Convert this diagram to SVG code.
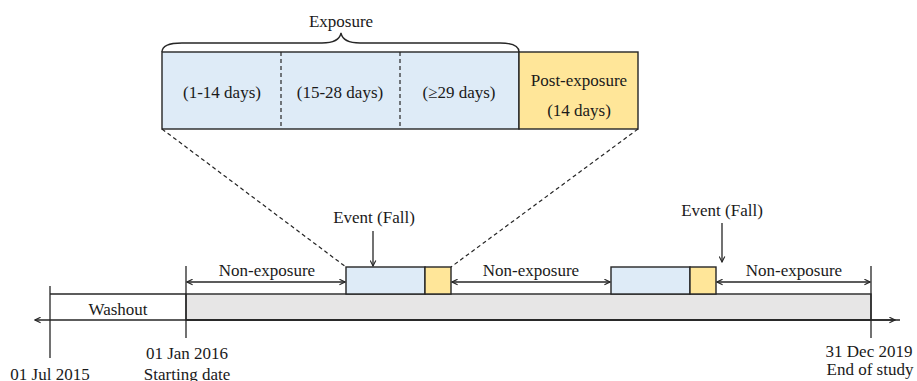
<svg xmlns="http://www.w3.org/2000/svg" width="917" height="381" viewBox="0 0 917 381" font-family="Liberation Serif, Times New Roman, serif">
<defs>
<style>
text{font-size:17px;fill:#1a1a1a;text-anchor:middle}
.box{stroke:#262626;stroke-width:1.4}
.blue{fill:#DEEBF7}
.yel{fill:#FFE699}
.ln{stroke:#262626;stroke-width:1.3;fill:none}
.dash{stroke:#262626;stroke-width:1.2;fill:none;stroke-dasharray:4 3}
.arr{stroke:#262626;stroke-width:1.3;fill:none;marker-end:url(#ah)}
.darr{stroke:#262626;stroke-width:1.3;fill:none;marker-start:url(#ah);marker-end:url(#ah)}
</style>
<marker id="ah" viewBox="0 0 10 10" refX="9" refY="5" markerWidth="7" markerHeight="7" markerUnits="userSpaceOnUse" orient="auto-start-reverse">
<path d="M1,1 L9,5 L1,9" fill="none" stroke="#262626" stroke-width="1.6"/>
</marker>
</defs>

<g id="exposure-detail">
<rect class="box blue" x="162" y="52" width="357" height="77"/>
<line class="dash" x1="281" y1="52" x2="281" y2="129"/>
<line class="dash" x1="400" y1="52" x2="400" y2="129"/>
<text x="222" y="98">(1-14 days)</text>
<text x="340" y="98">(15-28 days)</text>
<text x="459" y="98">(≥29 days)</text>
<path class="ln" d="M162,52 Q162,43 182,43 L322,43 Q339,43 341,33 Q343,43 360,43 L500,43 Q519,43 519,52"/>
<text x="341" y="27">Exposure</text>
</g>
<g id="post-exposure">
<rect class="box yel" x="519" y="52" width="119" height="77"/>
<text x="579" y="86">Post-exposure</text>
<text x="579" y="116">(14 days)</text>
</g>

<g id="timeline">
<rect x="186" y="294" width="685" height="26" fill="#E7E6E6" class="box"/>
<line class="ln" x1="50" y1="294" x2="186" y2="294"/>
<text x="118" y="315">Washout</text>
<line class="ln" x1="50" y1="286" x2="50" y2="358"/>
<line class="ln" x1="186" y1="266" x2="186" y2="338"/>
<line class="ln" x1="871" y1="266" x2="871" y2="338"/>
<text x="50" y="380">01 Jul 2015</text>
<text x="187" y="359">01 Jan 2016</text>
<text x="187" y="380">Starting date</text>
<text x="869" y="357">31 Dec 2019</text>
<text x="870" y="375">End of study</text>
</g>

<g id="event1">
<rect class="box blue" x="346" y="267" width="79" height="27"/>
<rect class="box yel" x="425" y="267" width="26" height="27"/>
<text x="374" y="223">Event (Fall)</text>
</g>
<g id="event2">
<rect class="box blue" x="611" y="267" width="79" height="27"/>
<rect class="box yel" x="690" y="267" width="26" height="27"/>
<text x="722" y="216">Event (Fall)</text>
</g>

<g id="connectors">
<line class="arr" x1="900" y1="320" x2="35" y2="320"/>
<line class="arr" x1="186" y1="320" x2="895" y2="320"/>
<line class="darr" x1="187" y1="282" x2="345" y2="282"/>
<line class="darr" x1="452" y1="282" x2="610" y2="282"/>
<line class="darr" x1="717" y1="282" x2="870" y2="282"/>
<text x="267" y="276">Non-exposure</text>
<text x="531" y="276">Non-exposure</text>
<text x="794" y="276">Non-exposure</text>
<line class="arr" x1="373" y1="231" x2="373" y2="266"/>
<line class="arr" x1="722" y1="223" x2="722" y2="262"/>
<line class="dash" x1="162" y1="129" x2="346" y2="267"/>
<line class="dash" x1="638" y1="129" x2="451" y2="267"/>
</g>
</svg>
